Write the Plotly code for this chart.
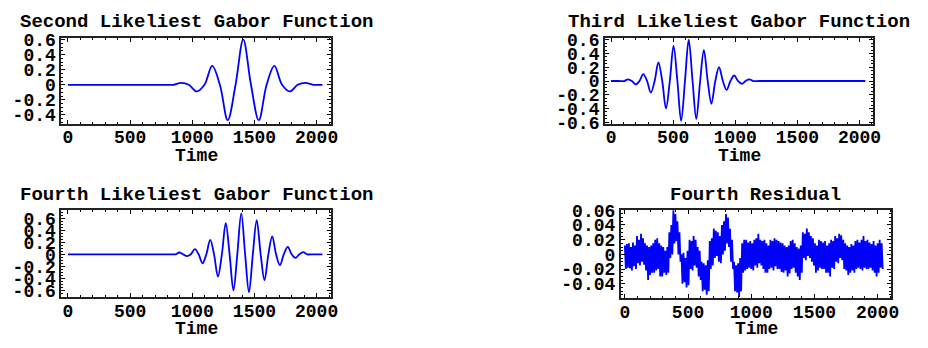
import plotly.graph_objects as go

# ---------------- data ----------------
g2_time = [0, 800, 848, 910, 972, 1035, 1098, 1160, 1222, 1285, 1348, 1410, 1472, 1535,
           1598, 1660, 1722, 1785, 1848, 1910, 1972, 2010, 2047]
g2_vals = [0, 0, 0, 0.025, 0, -0.088, 0, 0.25, 0, -0.47, 0, 0.6, 0, -0.47,
           0, 0.25, 0, -0.088, 0, 0.025, 0, 0, 0]

g3_time = [0, 60, 106, 137, 168, 198, 229, 259, 290, 320, 351, 381, 412, 442, 473, 503,
           534, 564, 595, 625, 656, 686, 717, 747, 778, 808, 839, 869, 900, 930, 961,
           991, 1022, 1052, 1083, 1113, 1144, 1200, 2047]
g3_vals = [0, 0, 0, 0.025, 0, -0.05, 0, 0.10, 0, -0.17, 0, 0.27, 0, -0.40, 0, 0.51,
           0, -0.58, 0, 0.6, 0, -0.55, 0, 0.45, 0, -0.33, 0, 0.2, 0, -0.13, 0,
           0.08, 0, -0.04, 0, 0.025, 0, 0, 0]

g4_time = [0, 820, 864, 895, 926, 957, 988, 1020, 1051, 1082, 1113, 1144, 1175, 1206, 1238,
           1269, 1300, 1331, 1362, 1394, 1425, 1456, 1487, 1518, 1550, 1581, 1612,
           1643, 1674, 1705, 1736, 1768, 1799, 1830, 1861, 1893, 1924, 1970, 2047]
g4_vals = [0, 0, 0, 0.03, 0, -0.03, 0, 0.085, 0, -0.15, 0, 0.24, 0, -0.37, 0,
           0.52, 0, -0.6, 0, 0.68, 0, -0.63, 0, 0.57, 0, -0.43, 0,
           0.30, 0, -0.18, 0, 0.125, 0, -0.06, 0, 0.035, 0, 0, 0]

res_time = list(range(0, 2048, 8))
res_vals = [
    0.012, -0.02, 0.014, -0.018,   0.015, -0.019, 0.01, -0.022,
    0.016, -0.016, 0.012, -0.02,   0.025, -0.012, 0.02, -0.015,
    0.028, -0.01, 0.022, -0.014,   0.015, -0.022, 0.012, -0.035,
    0.01, -0.028, 0.012, -0.025,   0.015, -0.025, 0.02, -0.022,
    0.022, -0.02, 0.015, -0.03,    0.012, -0.03, 0.01, -0.025,
    0.005, -0.028, 0.01, -0.025,   0.03, -0.005, 0.04, 0.0,
    0.06, 0.015, 0.055, 0.018,     0.045, 0.0, 0.03, -0.01,
    0.0, -0.04, 0.002, -0.038,     -0.005, -0.045, 0.005, -0.042,
    0.02, -0.02, 0.018, -0.022,    0.025, -0.015, 0.02, -0.018,
    0.01, -0.03, 0.005, -0.035,    -0.01, -0.05, -0.012, -0.048,
    -0.015, -0.055, -0.008, -0.05, 0.018, -0.02, 0.022, -0.015,
    0.035, -0.005, 0.032, -0.002,  0.03, -0.01, 0.025, -0.012,
    0.04, 0.0, 0.045, 0.005,       0.055, 0.015, 0.05, 0.01,
    0.035, -0.01, 0.02, -0.02,     -0.01, -0.05, -0.015, -0.052,
    -0.012, -0.058, -0.005, -0.05, 0.015, -0.025, 0.02, -0.022,
    0.02, -0.02, 0.016, -0.018,    0.018, -0.02, 0.015, -0.022,
    0.02, -0.015, 0.022, -0.018,   0.028, -0.012, 0.02, -0.015,
    0.018, -0.02, 0.02, -0.025,    0.015, -0.025, 0.012, -0.02,
    0.02, -0.018, 0.018, -0.022,   0.022, -0.016, 0.02, -0.02,
    0.018, -0.02, 0.016, -0.024,   0.015, -0.025, 0.012, -0.022,
    0.01, -0.03, 0.012, -0.026,    0.018, -0.02, 0.02, -0.018,
    0.015, -0.025, 0.01, -0.03,    0.008, -0.035, 0.012, -0.025,
    0.03, -0.005, 0.028, -0.008,   0.035, -0.002, 0.03, -0.005,
    0.025, -0.01, 0.022, -0.015,   0.015, -0.025, 0.012, -0.022,
    0.02, -0.018, 0.018, -0.02,    0.016, -0.02, 0.018, -0.025,
    0.012, -0.025, 0.015, -0.03,   0.02, -0.018, 0.018, -0.02,
    0.025, -0.01, 0.022, -0.012,   0.028, -0.005, 0.026, -0.008,
    0.02, -0.02, 0.015, -0.022,    0.012, -0.028, 0.01, -0.025,
    0.014, -0.022, 0.012, -0.025,  0.018, -0.02, 0.02, -0.018,
    0.016, -0.02, 0.02, -0.022,    0.025, -0.018, 0.018, -0.02,
    0.02, -0.02, 0.016, -0.018,    0.014, -0.022, 0.018, -0.025,
    0.012, -0.03, 0.015, -0.025,   0.02, -0.018, 0.015, -0.02,
]

titles = ["Second Likeliest Gabor Function", "Third Likeliest Gabor Function",
          "Fourth Likeliest Gabor Function", "Fourth Residual"]
x_label = "Time"
x_ticks = [0, 500, 1000, 1500, 2000]
y_ticks_a = [0.6, 0.4, 0.2, 0, -0.2, -0.4]
y_text_a = ["0.6", "0.4", "0.2", "0", "-0.2", "-0.4"]
y_ticks_b = [0.6, 0.4, 0.2, 0, -0.2, -0.4, -0.6]
y_text_b = ["0.6", "0.4", "0.2", "0", "-0.2", "-0.4", "-0.6"]
y_ticks_r = [0.06, 0.04, 0.02, 0, -0.02, -0.04]
y_text_r = ["0.06", "0.04", "0.02", "0", "-0.02", "-0.04"]

# ---------------- layout geometry ----------------
W, H = 928, 348
FONT = "'Liberation Mono', 'Courier New', Courier, monospace"
fs = 18

def px(x):
    return x / W

def py(y):
    return 1 - y / H

panels = [
    dict(x=(61, 333), y=(32, 122), xr=[-53, 2114], yr=[-0.516, 0.616],
         yt=y_ticks_a, ytt=y_text_a, t=g2_time, v=g2_vals, shape="spline"),
    dict(x=(610, 881), y=(32, 122), xr=[-48, 2112], yr=[-0.62, 0.62],
         yt=y_ticks_b, ytt=y_text_b, t=g3_time, v=g3_vals, shape="spline"),
    dict(x=(61, 333), y=(213, 305), xr=[-53, 2114], yr=[-0.714, 0.738],
         yt=y_ticks_b, ytt=y_text_b, t=g4_time, v=g4_vals, shape="spline"),
    dict(x=(626, 899), y=(213, 306), xr=[-31, 2108], yr=[-0.0596, 0.0604],
         yt=y_ticks_r, ytt=y_text_r, t=res_time, v=res_vals, shape="linear"),
]
title_pos = [(197, 15), (745, 15), (197, 197), (762, 197)]
label_y = [156, 156, 338, 338]

fig = go.Figure()
layout = dict(width=W, height=H, margin=dict(l=0, r=0, t=0, b=0),
              paper_bgcolor="white", plot_bgcolor="white", showlegend=False,
              font=dict(family=FONT, size=fs, color="black", weight="bold"))
annotations = []
for i, p in enumerate(panels):
    n = "" if i == 0 else str(i + 1)
    xa, ya = "x" + n, "y" + n
    fig.add_trace(go.Scatter(x=p["t"], y=p["v"], mode="lines", xaxis=xa, yaxis=ya,
                             line=dict(color="rgb(0,0,255)", width=1.8,
                                       shape=p["shape"]),
                             hoverinfo="skip"))
    common = dict(showgrid=False, zeroline=False, showline=True, linecolor="#222",
                  linewidth=2, mirror="allticks", ticks="inside", ticklen=4,
                  tickwidth=1, tickcolor="black",
                  tickfont=dict(family=FONT, size=fs, color="black", weight="bold"))
    layout["xaxis" + n] = dict(common, domain=[px(p["x"][0]), px(p["x"][1])],
                               range=p["xr"], anchor=ya, tickvals=x_ticks,
                               ticktext=[str(v) for v in x_ticks],
                               ticklabelstandoff=-4,
                               minor=dict(ticks="inside", ticklen=2, dtick=100,
                                          tickcolor="black"))
    layout["yaxis" + n] = dict(common, domain=[py(p["y"][1]), py(p["y"][0])],
                               range=p["yr"], anchor=xa, tickvals=p["yt"],
                               ticktext=p["ytt"],
                               minor=dict(ticks="inside", ticklen=2,
                                          dtick=(p["yt"][0] - p["yt"][1]) / 4,
                                          tickcolor="black"))
    tx, ty = title_pos[i]
    annotations.append(dict(text=titles[i], x=px(tx), y=py(ty), xref="paper",
                            yref="paper", showarrow=False, xanchor="center",
                            yanchor="middle",
                            font=dict(family=FONT, size=fs + 1, color="black",
                                      weight="bold")))
    cx = (p["x"][0] + p["x"][1]) / 2
    annotations.append(dict(text=x_label, x=px(cx), y=py(label_y[i]), xref="paper",
                            yref="paper", showarrow=False, xanchor="center",
                            yanchor="middle",
                            font=dict(family=FONT, size=fs, color="black",
                                      weight="bold")))
layout["annotations"] = annotations
fig.update_layout(**layout)
fig.write_html("out.html", config=dict(displayModeBar=False))
